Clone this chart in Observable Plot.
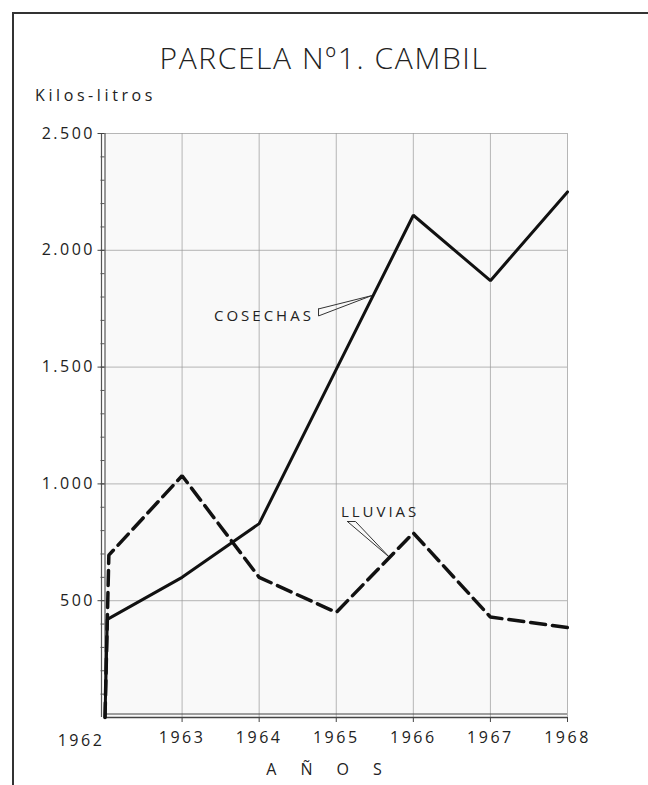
<!DOCTYPE html>
<html>
<head>
<meta charset="utf-8">
<script src="https://cdn.jsdelivr.net/npm/d3@7"></script>
<script src="https://cdn.jsdelivr.net/npm/@observablehq/plot@0.6"></script>
<style>
  html, body { margin: 0; padding: 0; background: #fff; }
  #page { position: relative; width: 648px; height: 785px; overflow: hidden; font-family: "DejaVu Sans", sans-serif; color: #222; }
  #border { position: absolute; left: 12px; top: 12px; width: 700px; height: 800px; border-left: 2px solid #333; border-top: 2px solid #333; }
  #title { position: absolute; left: 0; width: 648px; top: 37px; text-align: center; font-family: "Open Sans", "DejaVu Sans", sans-serif; font-weight: 300; font-size: 30px; letter-spacing: 1.6px; color: #222; }
  #ylabel { position: absolute; left: 35px; top: 84px; font-family: "Open Sans", "DejaVu Sans", sans-serif; font-size: 16px; letter-spacing: 3.6px; color: #222; }
  #xlabel { position: absolute; left: 0; width: 648px; top: 758px; text-align: center; font-family: "Open Sans", "DejaVu Sans", sans-serif; font-size: 16px; letter-spacing: 24px; text-indent: 24px; color: #222; }
  #chart { position: absolute; left: 0; top: 0; }
  #chart svg text { letter-spacing: 2.5px; }
  #chart svg g.lbl text { letter-spacing: 3px; }
</style>
</head>
<body>
<div id="page">
  <div id="chart"></div>
  <div id="border"></div>
  <div id="title">PARCELA Nº1. CAMBIL</div>
  <div id="ylabel">Kilos-litros</div>
  <div id="xlabel">AÑOS</div>
</div>
<script>
// Data
const years = [1963, 1964, 1965, 1966, 1967, 1968];
const cosechasX = [1962, 1962.03, 1963, 1964, 1965, 1966, 1967, 1968];
const cosechas  = [0, 420, 600, 830, 1490, 2150, 1870, 2250];
const lluviasX  = [1962, 1962.05, 1963, 1964, 1965, 1966, 1967, 1968];
const lluvias   = [0, 695, 1035, 600, 450, 790, 430, 385];
const yTicks = [500, 1000, 1500, 2000, 2500];
const yMinor = d3.range(100, 2500, 100);
const yGrid = [500, 1000, 1500, 2000, 2500];
const xGrid = [1963, 1964, 1965, 1966, 1967, 1968];

// Annotation labels and wedge leaders (data units)
const cosechasLabel = {t: "COSECHAS", x: 1964.71, y: 1717};
const lluviasLabel = {t: "LLUVIAS", x: 1965.06, y: 878};
const cosechasWedgeX = [1964.77, 1965.46, 1964.77, 1964.77];
const cosechasWedgeY = [1749, 1806, 1719, 1749];
const lluviasWedgeX = [1965.145, 1965.69, 1965.25, 1965.145];
const lluviasWedgeY = [839, 686, 839, 839];

const cos = cosechasX.map((x, i) => ({x, y: cosechas[i]}));
const llu = lluviasX.map((x, i) => ({x, y: lluvias[i]}));
const wedgeC = cosechasWedgeX.map((x, i) => ({x, y: cosechasWedgeY[i]}));
const wedgeL = lluviasWedgeX.map((x, i) => ({x, y: lluviasWedgeY[i]}));

const fmt = d => d3.format(",")(d).replace(/,/g, ".");

const chart = Plot.plot({
  width: 648,
  height: 785,
  marginTop: 133,
  marginBottom: 68,
  marginLeft: 104.5,
  marginRight: 81,
  style: {fontFamily: "Open Sans, DejaVu Sans, sans-serif", fontSize: "16px", color: "#222", background: "transparent"},
  x: {domain: [1962, 1968]},
  y: {domain: [0, 2500]},
  marks: [
    Plot.frame({fill: "#f9f9f9", stroke: null}),
    Plot.gridX(xGrid, {stroke: "#999", strokeOpacity: 0.7, strokeWidth: 1}),
    Plot.gridY(yGrid, {stroke: "#999", strokeOpacity: 0.7, strokeWidth: 1}),
    // double frame lines left and bottom
    Plot.ruleX([1962], {stroke: "#555", strokeWidth: 1.2}),
    Plot.ruleX([1962], {stroke: "#555", strokeWidth: 1.2, dx: -3.5}),
    Plot.ruleY([0], {stroke: "#444", strokeWidth: 1.5}),
    Plot.ruleY([0], {stroke: "#444", strokeWidth: 1.2, dy: -3.5}),
    Plot.axisY({ticks: yMinor, tickSize: 4, text: null, label: null, stroke: "#555"}),
    Plot.axisY({ticks: yTicks, tickSize: 7, tickPadding: 3, tickFormat: fmt, fontSize: 16, label: null, stroke: "#444"}),
    Plot.axisX({ticks: years, tickSize: 5, tickPadding: 9, tickFormat: d => String(d), fontSize: 16, fontWeight: 500, label: null, stroke: "#444"}),
    Plot.axisX({ticks: [1962], tickSize: 0, tickPadding: 17, dx: -24, tickFormat: d => String(d), fontSize: 16, fontWeight: 500, label: null}),
    // leaders
    Plot.line(wedgeC, {x: "x", y: "y", stroke: "#333", strokeWidth: 1}),
    Plot.line(wedgeL, {x: "x", y: "y", stroke: "#333", strokeWidth: 1}),
    // series
    Plot.line(llu, {x: "x", y: "y", stroke: "#111", strokeWidth: 3.5, strokeDasharray: "15,7", strokeLinejoin: "miter"}),
    Plot.line(cos, {x: "x", y: "y", stroke: "#111", strokeWidth: 3, strokeLinejoin: "miter"}),
    Plot.text([cosechasLabel], {x: "x", y: "y", text: "t", textAnchor: "end", fontSize: 15, fill: "#222", className: "lbl"}),
    Plot.text([lluviasLabel], {x: "x", y: "y", text: "t", textAnchor: "start", fontSize: 15, fill: "#222", className: "lbl"}),
  ]
});
document.getElementById("chart").append(chart);
</script>
</body>
</html>
